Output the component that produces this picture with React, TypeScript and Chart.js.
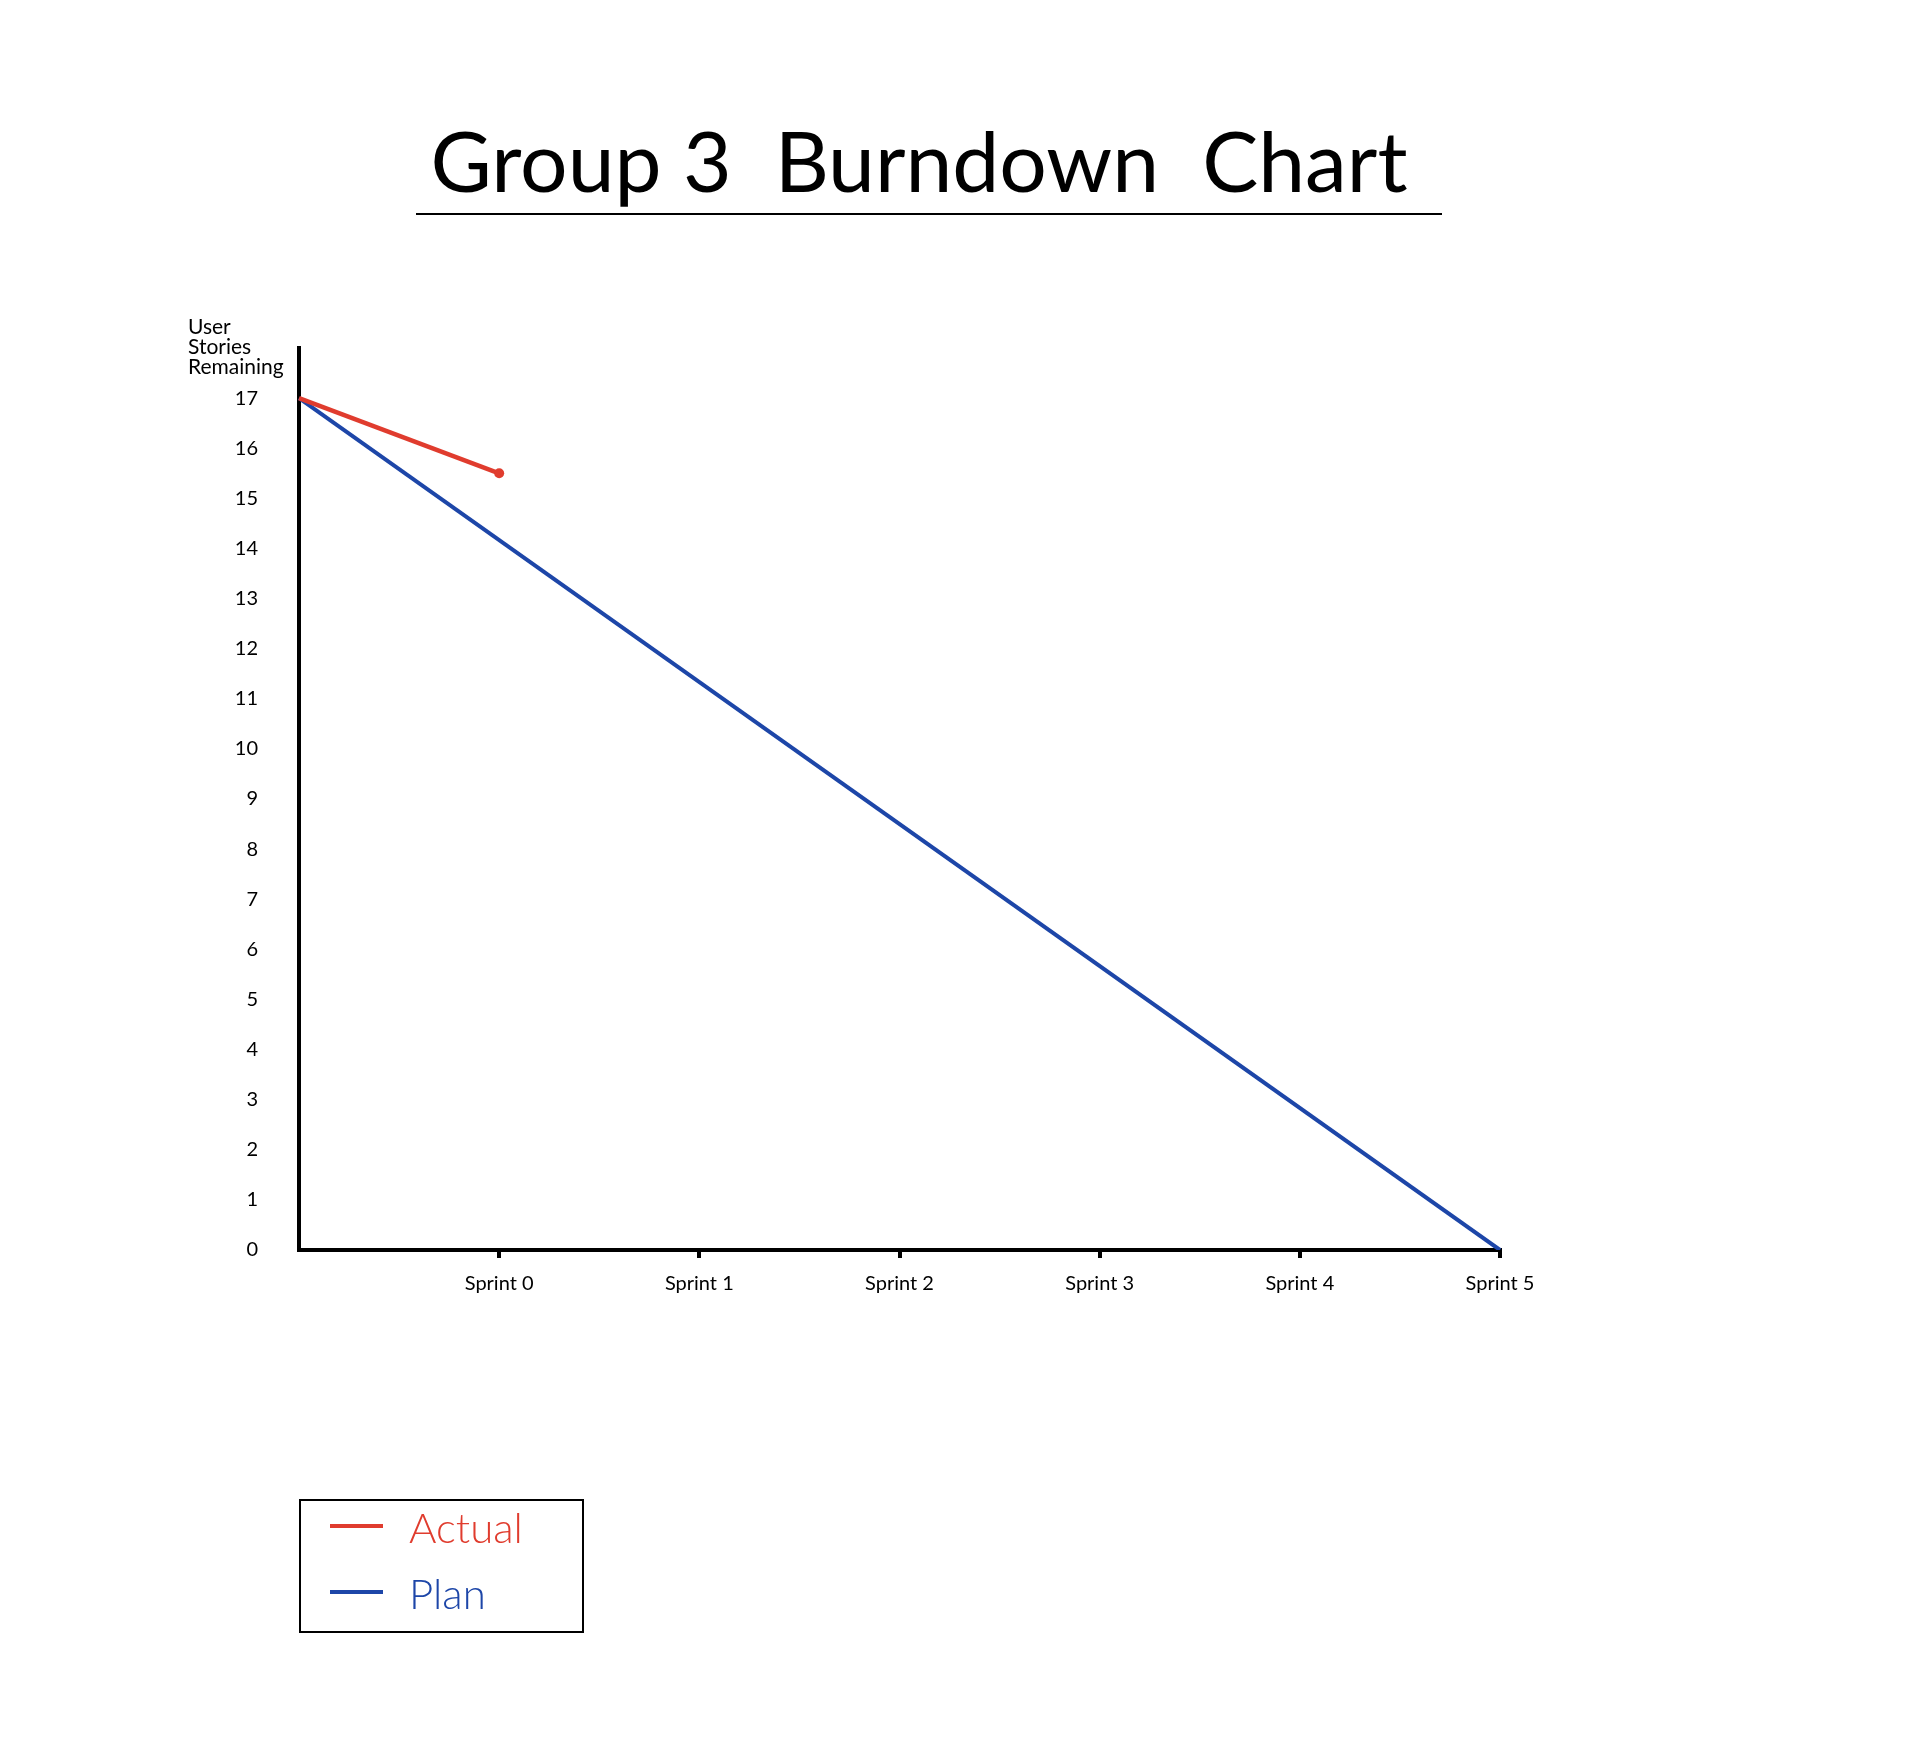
import { useEffect, useRef } from 'react'
import { Chart, registerables } from 'chart.js'

Chart.register(...registerables)

// x categories: first slot is the origin (no label)
const sprintLabels = ['', 'Sprint 0', 'Sprint 1', 'Sprint 2', 'Sprint 3', 'Sprint 4', 'Sprint 5']
const actualValues = [17, 15.5]
const planValues = [17, null, null, null, null, null, 0]
const yTickMax = 18
const yAxisTitle = ['User', 'Stories', 'Remaining']
const chartTitle = 'Group 3  Burndown  Chart'

const RED = '#e03c2e'
const BLUE = '#1d46a8'
const FONT = "Lato, 'Noto Sans', sans-serif"

// title, underline, y axis caption and boxed legend
const decorPlugin = {
  id: 'decor',
  afterDraw(chart: Chart) {
    const ctx = chart.ctx
    ctx.save()
    ctx.fillStyle = '#000'
    // title, fitted to the hand-lettered width
    let size = 110
    ctx.font = `${size}px ${FONT}`
    const w = ctx.measureText(chartTitle).width
    size = Math.min(size, (size * 977) / w)
    ctx.font = `${size}px ${FONT}`
    ctx.textAlign = 'center'
    ctx.textBaseline = 'alphabetic'
    ctx.fillText(chartTitle, 911, 184)
    ctx.strokeStyle = '#000'
    ctx.lineWidth = 2
    ctx.beginPath()
    ctx.moveTo(408, 206)
    ctx.lineTo(1434, 206)
    ctx.stroke()

    // y axis caption
    ctx.font = `21px ${FONT}`
    ctx.textAlign = 'left'
    ctx.textBaseline = 'middle'
    yAxisTitle.forEach((t, i) => ctx.fillText(t, 180, 319 + i * 20))

    // legend
    ctx.lineWidth = 2
    ctx.strokeRect(292, 1492, 283, 132)
    const rows = [1518, 1584]
    chart.data.datasets.forEach((ds, i) => {
      const c = ds.borderColor as string
      ctx.strokeStyle = c
      ctx.lineWidth = 4
      ctx.beginPath()
      ctx.moveTo(322, rows[i])
      ctx.lineTo(375, rows[i])
      ctx.stroke()
      ctx.fillStyle = c
      ctx.font = `300 42px ${FONT}`
      ctx.fillText(ds.label as string, 401, rows[i] + 3)
    })
    ctx.restore()
  },
}

export default function App() {
  const chartRef = useRef<HTMLCanvasElement>(null)
  const chartInstance = useRef<Chart | null>(null)

  useEffect(() => {
    if (!chartRef.current) return
    if (chartInstance.current) {
      chartInstance.current.destroy()
      chartInstance.current = null
    }

    chartInstance.current = new Chart(chartRef.current, {
      type: 'line',
      data: {
        labels: sprintLabels,
        datasets: [
          {
            label: 'Actual',
            data: actualValues,
            borderColor: RED,
            backgroundColor: RED,
            borderWidth: 4.5,
            pointRadius: [0, 5],
            pointBorderWidth: 0,
          },
          {
            label: 'Plan',
            data: planValues,
            borderColor: BLUE,
            backgroundColor: BLUE,
            borderWidth: 4,
            pointRadius: 0,
            spanGaps: true,
          },
        ],
      },
      options: {
        responsive: true,
        maintainAspectRatio: false,
        animation: false,
        layout: { padding: { top: 340, right: 397, bottom: 428, left: 0 } },
        scales: {
          x: {
            type: 'category',
            offset: false,
            afterFit: (scale) => {
              scale.height = 60
            },
            grid: {
              drawOnChartArea: false,
              drawTicks: true,
              tickLength: 8,
              lineWidth: 4,
              color: (c) => (c.index === 0 ? 'rgba(0,0,0,0)' : '#000'),
            },
            border: { display: true, color: '#000', width: 4 },
            ticks: {
              color: '#000',
              padding: 14,
              maxRotation: 0,
              autoSkip: false,
              font: { family: FONT, size: 20 },
            },
          },
          y: {
            min: 0,
            max: yTickMax,
            afterFit: (scale) => {
              scale.width = 291
            },
            grid: { display: false },
            border: { display: true, color: '#000', width: 4 },
            ticks: {
              stepSize: 1,
              color: '#000',
              padding: 33,
              font: { family: FONT, size: 20 },
              callback: (v) => (Number(v) >= yTickMax ? '' : String(v)),
            },
          },
        },
        plugins: {
          legend: { display: false },
          title: { display: false },
          tooltip: { enabled: false },
        },
      },
      plugins: [decorPlugin],
    })

    return () => {
      if (chartInstance.current) {
        chartInstance.current.destroy()
        chartInstance.current = null
      }
    }
  }, [])

  return (
    <div style={{ width: '1889px', height: '1730px', position: 'relative', background: '#fff' }}>
      <canvas ref={chartRef} />
    </div>
  )
}
